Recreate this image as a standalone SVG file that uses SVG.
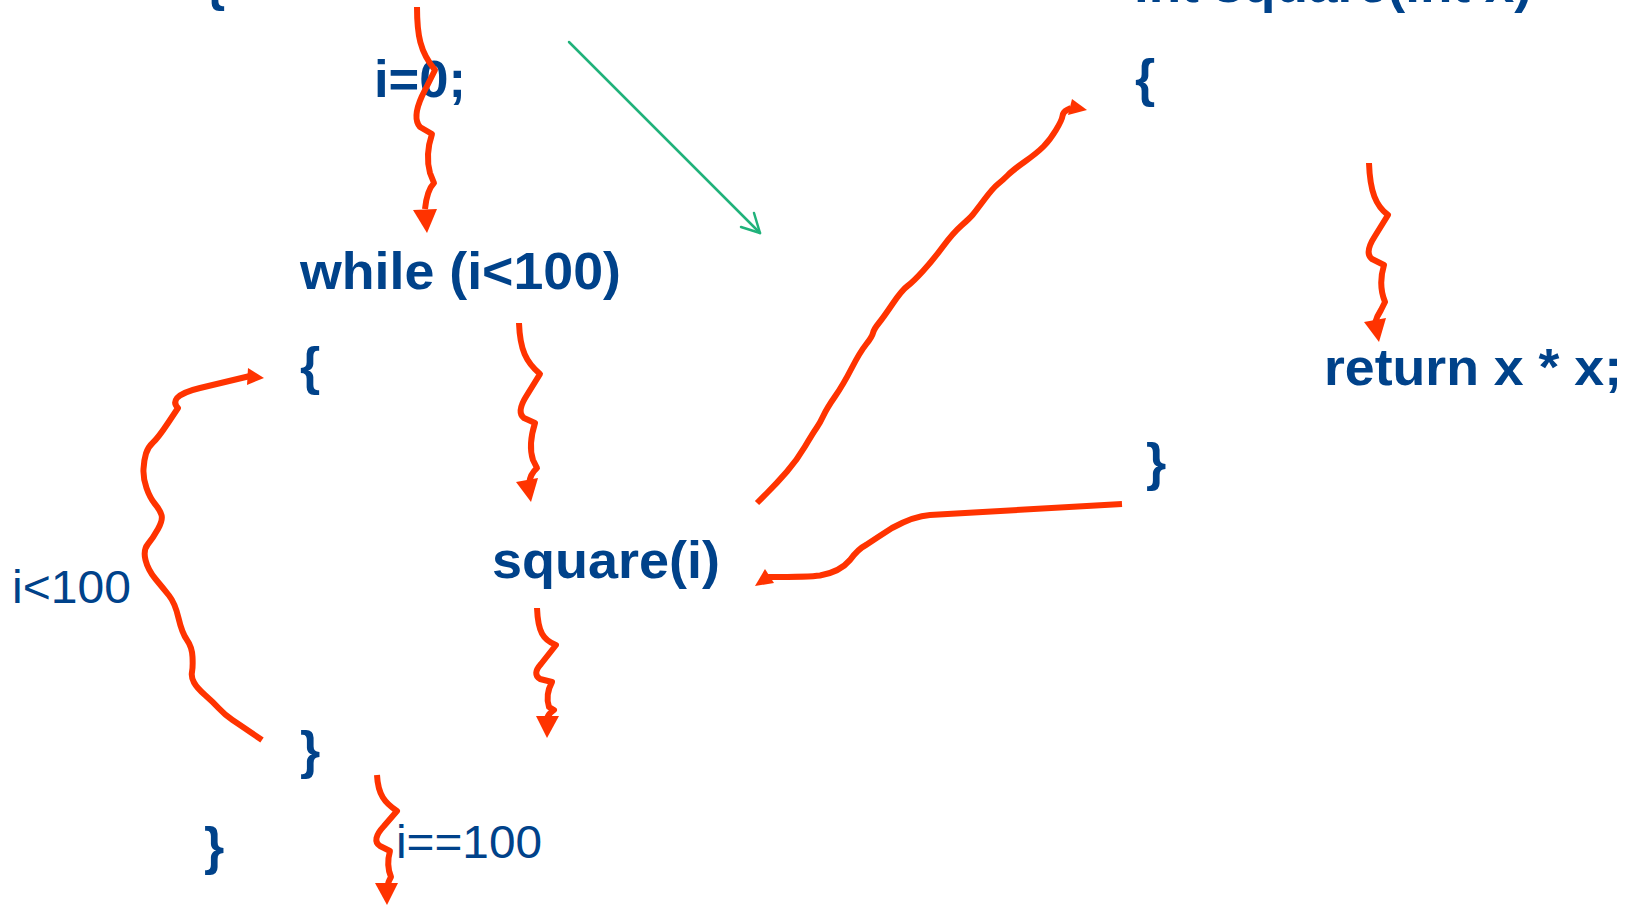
<svg xmlns="http://www.w3.org/2000/svg" width="1626" height="905" viewBox="0 0 1626 905">
<style>
.code{font-family:"Liberation Sans",Arial,sans-serif;font-weight:bold;font-size:52px;fill:#00428A}
.lbl{font-family:"Liberation Sans",Arial,sans-serif;font-size:46px;fill:#00428A}
.wire{fill:none;stroke:#FF3300;stroke-width:6;stroke-linejoin:round;stroke-linecap:butt}
.head{fill:#FF3300;stroke:none}
.green{fill:none;stroke:#20B27A;stroke-width:2.5;stroke-linecap:round;stroke-linejoin:round}
</style>
<rect width="1626" height="905" fill="#ffffff"/>
<g id="main-open"><text class="code" x="205" y="0">{</text></g>
<g id="init"><text class="code" x="374" y="97" textLength="92" lengthAdjust="spacingAndGlyphs">i=0;</text></g>
<g id="while"><text class="code" x="300" y="289" textLength="321" lengthAdjust="spacingAndGlyphs">while (i&lt;100)</text></g>
<g id="loop-open"><text class="code" x="300" y="384">{</text></g>
<g id="call"><text class="code" x="492" y="578" textLength="228" lengthAdjust="spacingAndGlyphs">square(i)</text></g>
<g id="loop-close"><text class="code" x="300" y="768">}</text></g>
<g id="main-close"><text class="code" x="204" y="864">}</text></g>
<g id="func-head"><text class="code" x="1134" y="2" textLength="398" lengthAdjust="spacingAndGlyphs">int square(int x)</text></g>
<g id="func-open"><text class="code" x="1135" y="96">{</text></g>
<g id="return"><text class="code" x="1324" y="385" textLength="298" lengthAdjust="spacingAndGlyphs">return x * x;</text></g>
<g id="func-close"><text class="code" x="1146" y="480">}</text></g>
<g id="label-loop"><text class="lbl" x="12" y="603" textLength="119" lengthAdjust="spacingAndGlyphs">i&lt;100</text></g>
<g id="label-exit"><text class="lbl" x="396" y="858" textLength="146" lengthAdjust="spacingAndGlyphs">i==100</text></g>
<g id="connectors">
<path class="wire" d="M417,7 C417,35 420,52 435,70 L422,96 Q412,118 420,127 L432,134 Q425,155 430,173 L434,183 Q427,190 425,209"/>
<polygon class="head" points="413,210 437,209 427,233"/>
<path class="wire" d="M519,323 C520,350 526,362 540,374 L527,395 Q516,412 524,418 L535,423 Q528,445 533,460 L537,468 Q530,474 529,484"/>
<polygon class="head" points="516,482 538,478 531,502"/>
<path class="wire" d="M262,740 L251,732.5 Q240,725 232.5,720 Q225,715 219,708.5 Q213,702 205,695 Q197,688 194,682.5 Q191,677 192,672 Q193,667 192.5,657 Q192,647 187,640 Q182,633 178.5,618 Q175,603 169,595.5 Q163,588 155.5,579 Q148,570 145.5,560 Q143,550 148,544 Q153,538 158,529 Q163,520 161.5,515 Q160,510 155,504 Q150,498 146.5,488 Q143,478 143.5,469 Q144,460 146,453.5 Q148,447 153,442.5 Q158,438 168,423 L178,408 Q173,403 177,398 Q183,392 200,388 L250,376"/>
<polygon class="head" points="248,368 264,378 247,385"/>
<path class="wire" d="M757,503 L767,493 Q777,483 787,471.5 Q797,460 805,446.5 Q813,433 816.5,428 Q820,423 823.5,415.5 Q827,408 835,396.5 Q843,385 851.5,368.5 Q860,352 866,344.5 Q872,337 873,333 Q874,329 878.5,323.5 Q883,318 892.5,304 Q902,290 907.5,286 Q913,282 923,271 Q933,260 943,246.5 Q953,233 961.5,225.5 Q970,218 972.5,215 Q975,212 984,200 Q993,188 998,184 Q1003,180 1008,175 Q1013,170 1025,161.5 Q1037,153 1043.5,146.5 Q1050,140 1056,130 Q1062,120 1062.5,116 Q1063,112 1067,110 L1071,108"/>
<polygon class="head" points="1072,99 1087,110 1068,115"/>
<path class="wire" d="M1122,504 L930,515 Q914,516 892,528 Q878,537 866,545 Q858,549 850,560 Q840,572 820,575.5 Q810,577 769,577 L763,578"/>
<polygon class="head" points="765,569 755,586 774,583"/>
<path class="wire" d="M537,608 C538,632 543,640 556,645 L541,664 Q532,674 540,679 L552,682 Q545,695 549,707 L554,710 Q549,713 547,718"/>
<polygon class="head" points="536,716 559,716 547,738"/>
<path class="wire" d="M377,775 C378,795 385,803 397,811 L384,826 Q371,840 380,846 L390,851 Q386,865 391,877 Q388,882 388,885"/>
<polygon class="head" points="375,883 398,883 387,905"/>
<path class="wire" d="M1369,163 C1370,192 1376,206 1388,215 L1375,236 Q1364,253 1372,259 L1384,265 Q1378,285 1385,302 L1381,310 Q1377,316 1375,323"/>
<polygon class="head" points="1364,322 1386,318 1379,342"/>
<line class="green" x1="569" y1="42" x2="760" y2="233"/>
<polyline class="green" points="741,227 760,233 754,213"/>
</g>
</svg>
